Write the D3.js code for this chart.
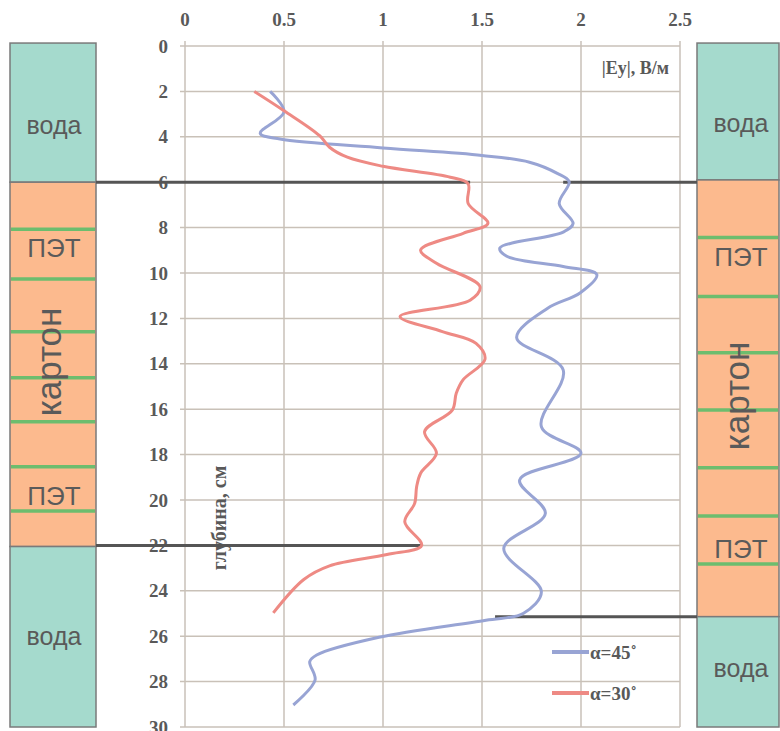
<!DOCTYPE html>
<html>
<head>
<meta charset="utf-8">
<script src="https://cdn.jsdelivr.net/npm/d3@7"></script>
<style>
  body { margin: 0; background: #fff; }
  svg { display: block; }
</style>
</head>
<body>
<div id="chart"></div>
<script>
// values: [|Ey| in V/m, depth in cm]
var blue45 = [
  [0.43, 2.0], [0.50, 2.9], [0.38, 3.85], [0.48, 4.1], [1.0, 4.49], [1.5, 4.82],
  [1.74, 5.12], [1.88, 5.61], [1.94, 5.98], [1.89, 6.94], [1.96, 7.82], [1.91, 8.2],
  [1.59, 8.9], [1.625, 9.26], [1.91, 9.71], [2.08, 10.07], [1.995, 10.88], [1.83, 11.56],
  [1.675, 12.85], [1.91, 14.27], [1.80, 16.77], [2.0, 17.94], [1.69, 19.12],
  [1.82, 20.59], [1.61, 22.13], [1.80, 24.04], [1.71, 24.99], [1.52, 25.3],
  [0.98, 26.05], [0.665, 26.83], [0.63, 27.12], [0.657, 27.93], [0.547, 29.03]
];
var red30 = [
  [0.35, 2.0], [0.50, 2.85], [0.68, 3.95], [0.73, 4.46], [0.82, 4.9], [1.0, 5.3],
  [1.34, 5.78], [1.43, 6.07], [1.43, 6.94], [1.53, 7.81], [1.405, 8.25], [1.19, 8.99],
  [1.27, 9.57], [1.49, 10.6], [1.44, 11.2], [1.086, 11.92], [1.30, 12.58], [1.47, 13.1],
  [1.515, 13.8], [1.405, 14.7], [1.37, 15.3], [1.35, 16.04], [1.21, 16.99], [1.27, 17.94],
  [1.19, 18.82], [1.17, 19.41], [1.16, 20.15], [1.11, 20.96], [1.195, 22.0], [1.02, 22.4],
  [0.73, 22.9], [0.60, 23.5], [0.446, 24.97]
];
var xTicks = [0, 0.5, 1, 1.5, 2, 2.5];
var yTicks = [0, 2, 4, 6, 8, 10, 12, 14, 16, 18, 20, 22, 24, 26, 28, 30];

// layers of the sample, depth in cm
var leftLayers = [[-0.13, 6, "water"], [6, 22.05, "board"], [22.05, 30, "water"]];
var leftGreen = [8.07, 10.26, 12.59, 14.61, 16.55, 18.53, 20.48];
var rightLayers = [[-0.13, 5.9, "water"], [5.9, 25.14, "board"], [25.14, 30, "water"]];
var rightGreen = [8.44, 11.04, 13.51, 16.04, 18.58, 20.7, 22.82];

// black boundary lines: depth, and field value where the line meets the curve
var boundLeft = [[6, 1.44], [22, 1.195]];
var boundRight = [[6, 1.91], [25.14, 1.566]];

var W = 780, H = 731;
var svg = d3.select("#chart").append("svg")
    .attr("width", W).attr("height", H);

var x = d3.scaleLinear().domain([0, 2.5]).range([185, 680]);
var y = d3.scaleLinear().domain([0, 30]).range([46, 727]);

var gridCol = "#c9c1b8";
var numFont = "'Liberation Serif', 'Times New Roman', serif";
var sansFont = "'Liberation Sans', Arial, sans-serif";
var layerFill = { water: "#a5dacd", board: "#fcba8e" };

// grid
svg.append("g").selectAll("line").data(xTicks).enter().append("line")
    .attr("x1", d => x(d)).attr("x2", d => x(d))
    .attr("y1", y(0) - 5).attr("y2", y(30))
    .attr("stroke", gridCol).attr("stroke-width", 1.5);
svg.append("g").selectAll("line").data(yTicks).enter().append("line")
    .attr("x1", x(0) - 5).attr("x2", x(2.5))
    .attr("y1", d => y(d)).attr("y2", d => y(d))
    .attr("stroke", gridCol).attr("stroke-width", 1.5);

// tick labels
svg.append("g").selectAll("text").data(xTicks).enter().append("text")
    .attr("x", d => x(d)).attr("y", 26)
    .attr("text-anchor", "middle")
    .style("font-family", numFont).style("font-weight", "bold")
    .style("font-size", "19px").attr("fill", "#595959")
    .text(d => d);
svg.append("g").selectAll("text").data(yTicks).enter().append("text")
    .attr("x", 168).attr("y", d => y(d)).attr("dy", "0.35em")
    .attr("text-anchor", "end")
    .style("font-family", numFont).style("font-weight", "bold")
    .style("font-size", "19px").attr("fill", "#595959")
    .text(d => d);

// axis titles
svg.append("text")
    .attr("x", 669).attr("y", 74).attr("text-anchor", "end")
    .style("font-family", numFont).style("font-weight", "bold")
    .style("font-size", "18px").attr("fill", "#595959")
    .text("|Ey|, В/м");
svg.append("text")
    .attr("transform", "translate(226,518) rotate(-90)")
    .attr("text-anchor", "middle")
    .style("font-family", numFont).style("font-weight", "bold")
    .style("font-size", "20px").attr("fill", "#595959")
    .text("глубина, см");

// sample columns
function drawColumn(x0, x1, layers, greens) {
  var g = svg.append("g");
  g.selectAll("rect").data(layers).enter().append("rect")
      .attr("x", x0).attr("width", x1 - x0)
      .attr("y", d => y(d[0])).attr("height", d => y(d[1]) - y(d[0]))
      .attr("fill", d => layerFill[d[2]])
      .attr("stroke", "#7a7a7a").attr("stroke-width", 1.5);
  g.selectAll("line").data(greens).enter().append("line")
      .attr("x1", x0 + 1).attr("x2", x1 - 1)
      .attr("y1", d => y(d)).attr("y2", d => y(d))
      .attr("stroke", "#6cbd6e").attr("stroke-width", 3.5);
  return g;
}
var left = drawColumn(10, 96, leftLayers, leftGreen);
var right = drawColumn(697, 779, rightLayers, rightGreen);

function label(g, cx, cy, txt, size) {
  g.append("text").attr("x", cx).attr("y", cy).attr("text-anchor", "middle")
      .style("font-family", sansFont).style("font-size", size + "px")
      .attr("fill", "#5a5a5a").text(txt);
}
label(left, 54, 134, "вода", 25);
label(left, 54, 257, "ПЭТ", 26);
label(left, 54, 505, "ПЭТ", 26);
label(left, 54, 645, "вода", 25);
label(right, 741, 132, "вода", 25);
label(right, 741, 266, "ПЭТ", 26);
label(right, 741, 558, "ПЭТ", 26);
label(right, 741, 677, "вода", 25);
left.append("text").attr("transform", "translate(61,362) rotate(-90)")
    .attr("text-anchor", "middle")
    .style("font-family", sansFont).style("font-size", "35px")
    .attr("fill", "#5a5a5a").text("картон");
right.append("text").attr("transform", "translate(749,396) rotate(-90)")
    .attr("text-anchor", "middle")
    .style("font-family", sansFont).style("font-size", "35px")
    .attr("fill", "#5a5a5a").text("картон");

// boundary lines
svg.append("g").selectAll("line").data(boundLeft).enter().append("line")
    .attr("x1", 96).attr("x2", d => x(d[1]))
    .attr("y1", d => y(d[0])).attr("y2", d => y(d[0]))
    .attr("stroke", "#555").attr("stroke-width", 3);
svg.append("g").selectAll("line").data(boundRight).enter().append("line")
    .attr("x1", d => x(d[1])).attr("x2", 697)
    .attr("y1", d => y(d[0])).attr("y2", d => y(d[0]))
    .attr("stroke", "#555").attr("stroke-width", 3);

// curves
var line = d3.line()
    .x(d => x(d[0])).y(d => y(d[1]))
    .curve(d3.curveCatmullRom.alpha(0.5));
svg.append("path").datum(blue45).attr("d", line)
    .attr("fill", "none").attr("stroke", "#98a4d4").attr("stroke-width", 3);
svg.append("path").datum(red30).attr("d", line)
    .attr("fill", "none").attr("stroke", "#ee8a84").attr("stroke-width", 3);

// legend
var legend = [["α=45˚", "#98a4d4", 652], ["α=30˚", "#ee8a84", 693]];
var lg = svg.append("g").selectAll("g").data(legend).enter().append("g");
lg.append("line").attr("x1", 552).attr("x2", 589)
    .attr("y1", d => d[2]).attr("y2", d => d[2])
    .attr("stroke", d => d[1]).attr("stroke-width", 4);
lg.append("text").attr("x", 590).attr("y", d => d[2] + 7)
    .style("font-family", numFont).style("font-weight", "bold")
    .style("font-size", "19px").attr("fill", "#595959")
    .text(d => d[0]);
</script>
</body>
</html>
